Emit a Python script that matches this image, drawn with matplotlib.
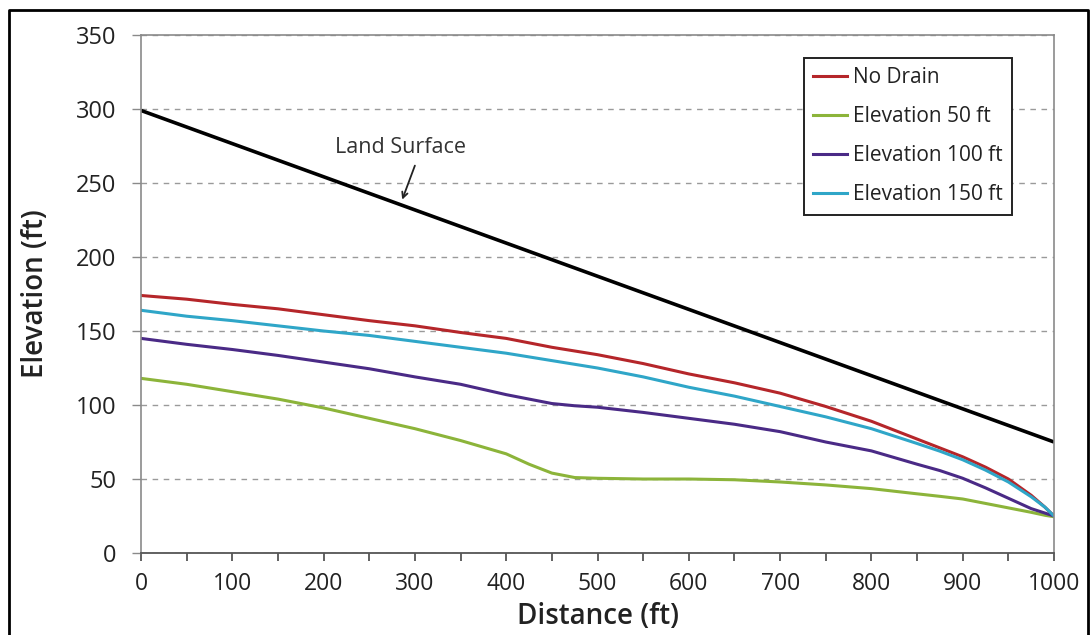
import matplotlib
matplotlib.use("Agg")
import matplotlib.pyplot as plt
from matplotlib.lines import Line2D
from matplotlib.ticker import MultipleLocator

# distance along the profile (ft)
distance = [0, 50, 100, 150, 200, 250, 300, 350, 400, 425, 450, 475, 500,
            550, 600, 650, 700, 750, 800, 850, 875, 900, 925, 950, 975, 990,
            1000]

no_drain = [174, 171.5, 168, 165, 161, 157, 153.5, 149, 145, 142, 139, 136.5,
            134, 128, 121, 115, 108, 99, 89, 77, 71, 65, 58, 50, 39, 31, 25]
elev_50 = [118, 114, 109, 104, 98, 91, 84, 76, 67, 60, 54, 51, 50.5, 50, 50,
           49.5, 48, 46, 43.5, 40, 38.3, 36.5, 33.5, 30.5, 27.5, 25.5, 24.5]
elev_100 = [145, 141, 137.5, 133.5, 129, 124.5, 119, 114, 107, 104, 101, 99.5,
            98.5, 95, 91, 87, 82, 75, 69, 60, 55.7, 50.5, 44, 37, 30, 27, 25]
elev_150 = [164, 160, 157, 153.5, 150, 147, 143, 139, 135, 132.5, 130, 127.5,
            125, 119, 112, 106, 99, 92, 84, 74, 68.8, 63, 56, 48, 38, 31, 25]

land_x = [0, 1000]
land_y = [299, 75]

SERIES = [("No Drain", no_drain, "#b5262a"),
          ("Elevation 50 ft", elev_50, "#8cb43a"),
          ("Elevation 100 ft", elev_100, "#4a2a86"),
          ("Elevation 150 ft", elev_150, "#2fa6c8")]

plt.rcParams.update({"font.family": ["Open Sans", "DejaVu Sans"]})

fig = plt.figure(figsize=(10.9, 6.35), dpi=100)
ax = fig.add_axes([0.1294, 0.1291, 0.8376, 0.8158])

ax.plot(land_x, land_y, color="black", lw=2.6, solid_capstyle="butt")
for name, ys, col in SERIES:
    ax.plot(distance, ys, color=col, lw=2.2, label=name)

ax.set_xlim(0, 1000)
ax.set_ylim(0, 350)
ax.xaxis.set_major_locator(MultipleLocator(100))
ax.xaxis.set_minor_locator(MultipleLocator(50))
ax.yaxis.set_major_locator(MultipleLocator(50))

ax.grid(axis="y", color="#9a9a9a", lw=1.0, ls=(0, (4, 4)))
ax.set_axisbelow(True)
for side in ("top", "right", "left"):
    ax.spines[side].set_color("#8a8a8a")
    ax.spines[side].set_linewidth(1.2)
ax.spines["bottom"].set_color("#555555")
ax.spines["bottom"].set_linewidth(1.3)

ax.tick_params(axis="x", which="both", direction="out", length=6, width=1.3,
               color="#555555", labelsize=16.5, pad=8, labelcolor="#222222")
ax.tick_params(axis="y", direction="out", length=6.5, width=1.0,
               color="#8a8a8a", labelsize=17, pad=11, labelcolor="#222222")

ax.set_xlabel("Distance (ft)", fontsize=20, fontweight="semibold",
              color="#222222")
ax.set_ylabel("Elevation (ft)", fontsize=20, fontweight="semibold",
              color="#222222")
ax.xaxis.set_label_coords(0.5, -0.123)
ax.xaxis.label.set_va("center")
ax.yaxis.set_label_coords(-0.116, 0.5)
ax.yaxis.label.set_va("center")

ax.text(284, 274, "Land Surface", fontsize=15.5, color="#333333",
        ha="center", va="center")
ax.annotate("", xy=(285, 237), xytext=(301, 263.5),
            arrowprops=dict(arrowstyle="->", lw=1.3, color="#222222"))

leg = ax.legend(loc="upper left", bbox_to_anchor=(804 / 1090, 1 - 58 / 635),
                bbox_transform=fig.transFigure, borderaxespad=0, fontsize=15,
                handlelength=1.6, handletextpad=0.3, labelspacing=0.86,
                borderpad=0.45, fancybox=False, framealpha=1)
leg.get_frame().set_edgecolor("#222222")
leg.get_frame().set_linewidth(1.4)
for t in leg.get_texts():
    t.set_color("#222222")

# outer border of the picture (bottom edge lies below the crop)
bx0, bx1, by1 = 9 / 1090, 1088 / 1090, 1 - 10 / 635
fig.add_artist(Line2D([bx0, bx0, bx1, bx1], [-0.05, by1, by1, -0.05],
                      transform=fig.transFigure, color="black", lw=2))

fig.savefig("out.png", dpi=100)
